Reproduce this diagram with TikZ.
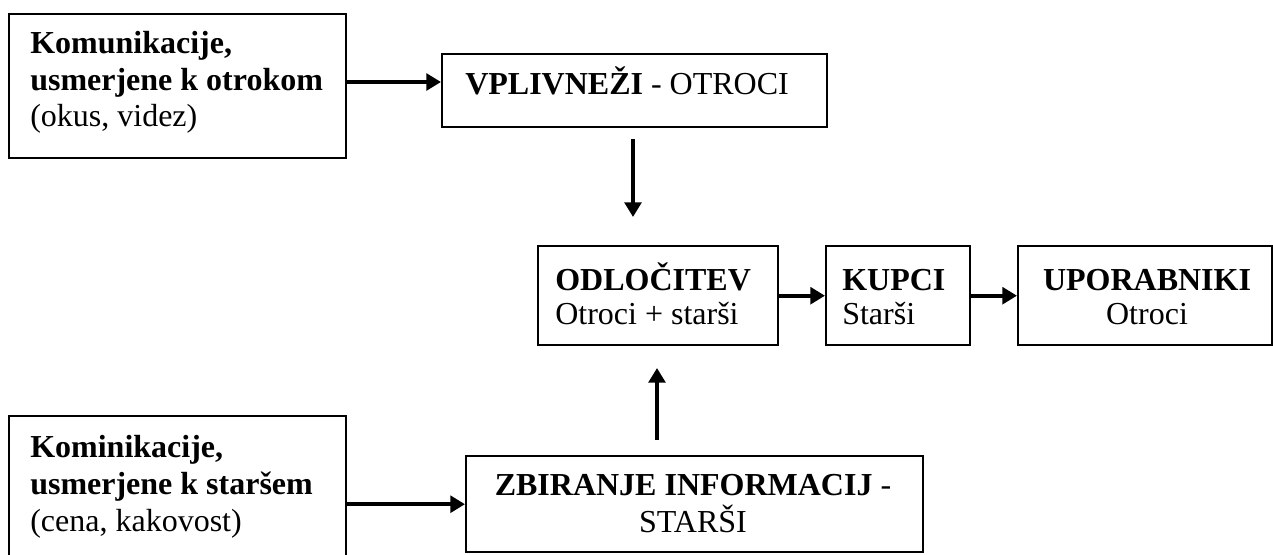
\documentclass[tikz,border=0pt]{standalone}
\usepackage{fontspec}
\setmainfont{Liberation Serif}
\usetikzlibrary{arrows.meta}
\begin{document}
\begin{tikzpicture}[x=0.75pt,y=-0.75pt,
  box/.style={draw,line width=1.8pt,rectangle,inner sep=0pt,anchor=north west},
  txt/.style={inner sep=0pt,font=\fontsize{24}{27}\selectfont},
  lt/.style={txt,anchor=base west},
  ct/.style={txt,anchor=base},
  conn/.style={line width=3pt,-{Triangle[length=11pt,width=12.5pt]}}]
\useasboundingbox (0,0) rectangle (1273,554);
\clip (0,0) rectangle (1273,554);
% boxes
\node[box,minimum width=252.75pt,minimum height=108pt] (A) at (8,13) {};
\node[box,minimum width=288.75pt,minimum height=54.75pt] (B) at (441,53) {};
\node[box,minimum width=180pt,minimum height=74.25pt] (C) at (537,245) {};
\node[box,minimum width=108pt,minimum height=74.25pt] (D) at (825,245) {};
\node[box,minimum width=190.5pt,minimum height=74.25pt] (E) at (1017,245) {};
\node[box,minimum width=252.75pt,minimum height=138.75pt] (F) at (8,415) {};
\node[box,minimum width=342.75pt,minimum height=72pt] (G) at (465,455) {};
% texts
\node[lt] (a1) at (30,53) {\bfseries Komunikacije,};
\node[lt] (a2) at (30,90) {\bfseries usmerjene k otrokom};
\node[lt] (a3) at (30,126) {(okus, videz)};
\node[lt] (b1) at (465,94) {\textbf{VPLIVNEŽI} - OTROCI};
\node[lt] (c1) at (555,290) {\bfseries ODLOČITEV};
\node[lt] (c2) at (555,324) {Otroci + starši};
\node[lt] (d1t) at (842,290) {\bfseries KUPCI};
\node[lt] (d2t) at (842,324) {Starši};
\node[ct] (e1) at (1147,290) {\bfseries UPORABNIKI};
\node[ct] (e2) at (1147,324) {Otroci};
\node[lt] (f1) at (30,457) {\bfseries Kominikacije,};
\node[lt] (f2) at (30,494) {\bfseries usmerjene k staršem};
\node[lt] (f3) at (30,531) {(cena, kakovost)};
\node[ct] (g1) at (693,495) {\textbf{ZBIRANJE INFORMACIJ} -};
\node[ct] (g2) at (693,532) {STARŠI};
% free arrow ends
\coordinate (dn1) at (633,139);
\coordinate (dn2) at (633,217);
\coordinate (up1) at (657,440);
\coordinate (up2) at (657,368);
% connectors
\draw[conn] (A.east |- 0,82) -- (B.west |- 0,82);
\draw[conn] (dn1) -- (dn2);
\draw[conn] (up1) -- (up2);
\draw[conn] (C) -- (D);
\draw[conn] (D) -- (E);
\draw[conn] (F.east |- G.west) -- (G.west);
\end{tikzpicture}
\end{document}
